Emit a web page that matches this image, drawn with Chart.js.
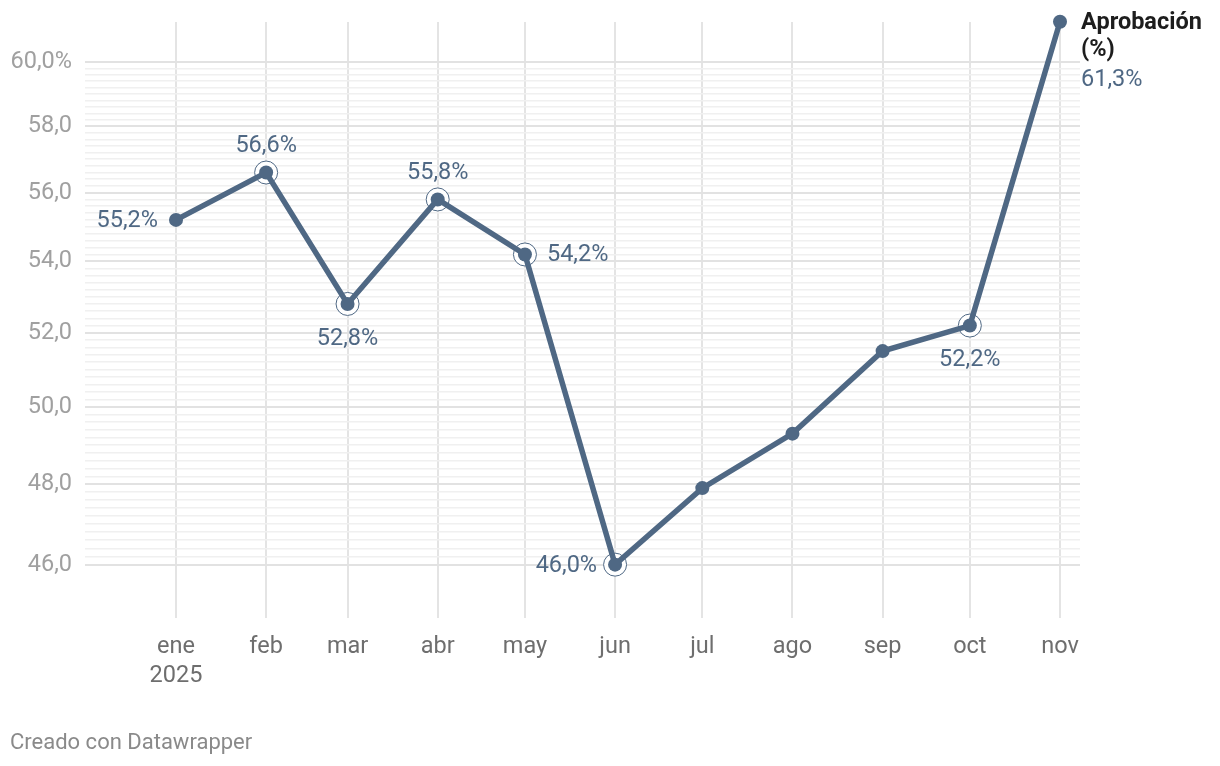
<!DOCTYPE html>
<html><head><meta charset="utf-8">
<script src="https://cdn.jsdelivr.net/npm/chart.js@4.4.1/dist/chart.umd.min.js"></script>
<style>
html,body{margin:0;padding:0;background:#fff;width:1220px;height:766px;overflow:hidden}
#wrap{position:absolute;left:0;top:0;width:1220px;height:766px}
#foot{position:absolute;left:10px;top:729px;font:22px Roboto, sans-serif;color:#8a8a8a;white-space:nowrap}
</style></head><body>
<div id="wrap"><canvas id="c" width="1220" height="766" style="width:1220px;height:766px"></canvas></div>
<div id="foot">Creado con Datawrapper</div>
<script>
// ---- data ----
const year = 2025;
const monthLabels = ['ene','feb','mar','abr','may','jun','jul','ago','sep','oct','nov'];
const monthNumbers = [0,1,2,3,4,5,6,7,8,9,10];
const approval = [55.2,56.6,52.8,55.8,54.2,46.0,47.9,49.3,51.5,52.2,61.3];
const highlighted = [false,true,true,true,true,true,false,false,false,true,false];
const yMajorTicks = [46,48,50,52,54,56,58,60];
const yMinorStep = 0.2;
const seriesName = ['Aprobación','(%)'];

// ---- helpers ----
const DAY = 86400000;
const dayOfYear = m => Math.round((Date.UTC(year, m, 1) - Date.UTC(year, 0, 1)) / DAY);
const xDays = monthNumbers.map(dayOfYear);
const fmt = v => v.toFixed(1).replace('.', ',');
const LINE = '#4f6884';
const X_MIN = -31.29, X_MAX = 310.88, Y_MIN = 44.72, Y_MAX = 61.29;

const points = xDays.map((d, i) => ({x: d, y: approval[i]}));

const yTicks = [];
for (let i = 0; i < yMajorTicks.length - 1; i++) {
  const a = yMajorTicks[i], b = yMajorTicks[i+1];
  const n = Math.round((b - a) / yMinorStep);
  for (let k = 0; k < n; k++) yTicks.push(Math.round((a + k*yMinorStep)*10)/10);
}
yTicks.push(yMajorTicks[yMajorTicks.length-1]);
const isMajor = v => yMajorTicks.some(t => Math.abs(t - v) < 1e-6);

// label placement per point (style only)
const placement = {0:'left',1:'above',2:'below',3:'above',4:'right',5:'left',9:'below'};

const ringPlugin = {
  id: 'rings',
  beforeDatasetsDraw(chart) {
    const ctx = chart.ctx, meta = chart.getDatasetMeta(0);
    ctx.save();
    meta.data.forEach((p, i) => {
      if (!highlighted[i]) return;
      ctx.beginPath();
      ctx.arc(p.x, p.y, 11.5, 0, Math.PI*2);
      ctx.fillStyle = '#ffffff';
      ctx.fill();
      ctx.lineWidth = 1;
      ctx.strokeStyle = LINE;
      ctx.stroke();
    });
    ctx.restore();
  }
};

const labelPlugin = {
  id: 'vlabels',
  afterDatasetsDraw(chart) {
    const ctx = chart.ctx, meta = chart.getDatasetMeta(0);
    ctx.save();
    ctx.textBaseline = 'middle';
    ctx.font = '23.5px Roboto';
    ctx.fillStyle = LINE;
    meta.data.forEach((p, i) => {
      const pl = placement[i];
      if (!pl) return;
      const t = fmt(approval[i]) + '%';
      let x = p.x, y = p.y;
      if (pl === 'left') { ctx.textAlign = 'right'; x -= 18; y += 1; }
      else if (pl === 'right') { ctx.textAlign = 'left'; x += 22; y += 1; }
      else if (pl === 'above') { ctx.textAlign = 'center'; y -= 26; }
      else { ctx.textAlign = 'center'; y += 35; }
      ctx.fillText(t, x, y);
    });
    // series label at last point
    const last = meta.data[meta.data.length - 1];
    const lx = last.x + 21, ly = last.y + 1;
    ctx.textAlign = 'left';
    ctx.font = 'bold 23.5px Roboto';
    ctx.fillStyle = '#1d1d1d';
    ctx.fillText(seriesName[0], lx, ly);
    ctx.fillText(seriesName[1], lx, ly + 27);
    ctx.font = '23.5px Roboto';
    ctx.fillStyle = LINE;
    ctx.fillText(fmt(approval[approval.length-1]) + '%', lx, ly + 57);
    ctx.restore();
  }
};

new Chart(document.getElementById('c'), {
  type: 'line',
  data: {
    datasets: [{
      data: points,
      borderColor: LINE,
      backgroundColor: LINE,
      borderWidth: 5.5,
      pointRadius: 7,
      pointHoverRadius: 7,
      pointBackgroundColor: LINE,
      pointBorderWidth: 0,
      tension: 0,
      clip: false
    }]
  },
  options: {
    responsive: false,
    animation: false,
    devicePixelRatio: 1,
    layout: { padding: { left: 0, right: 140, top: 22, bottom: 0 } },
    plugins: { legend: { display: false }, tooltip: { enabled: false } },
    scales: {
      x: {
        type: 'linear',
        bounds: 'data',
        min: X_MIN,
        max: X_MAX,
        afterBuildTicks: s => { s.ticks = xDays.map(v => ({value: v})); s.min = X_MIN; s.max = X_MAX; },
        afterFit: s => { s.height = 148; s.paddingLeft = 0; s.paddingRight = 0; },
        grid: { color: '#e4e4e4', lineWidth: 2, drawTicks: false },
        border: { display: false },
        ticks: {
          autoSkip: false,
          maxRotation: 0,
          padding: 14,
          color: '#6e6e6e',
          font: { family: 'Roboto', size: 23.5, lineHeight: 1.25 },
          callback: (v) => {
            const i = xDays.indexOf(v);
            if (i < 0) return '';
            return i === 0 ? [monthLabels[i], String(year)] : monthLabels[i];
          }
        }
      },
      y: {
        type: 'logarithmic',
        bounds: 'data',
        min: Y_MIN,
        max: Y_MAX,
        afterBuildTicks: s => { s.ticks = yTicks.map(v => ({value: v})); s.min = Y_MIN; s.max = Y_MAX; },
        afterFit: s => { s.width = 85; s.paddingTop = 0; s.paddingBottom = 0; },
        grid: {
          drawTicks: false,
          color: c => isMajor(c.tick.value) ? '#e2e2e2' : '#f0f0f0',
          lineWidth: c => isMajor(c.tick.value) ? 2 : 1.5
        },
        border: { display: false },
        ticks: {
          autoSkip: false,
          padding: 13,
          color: '#a0a0a0',
          font: { family: 'Roboto', size: 23.5 },
          callback: (v) => {
            if (!isMajor(v)) return '';
            return fmt(v) + (Math.abs(v - 60) < 1e-6 ? '%' : '');
          }
        }
      }
    }
  },
  plugins: [ringPlugin, labelPlugin]
});
</script>
</body></html>
